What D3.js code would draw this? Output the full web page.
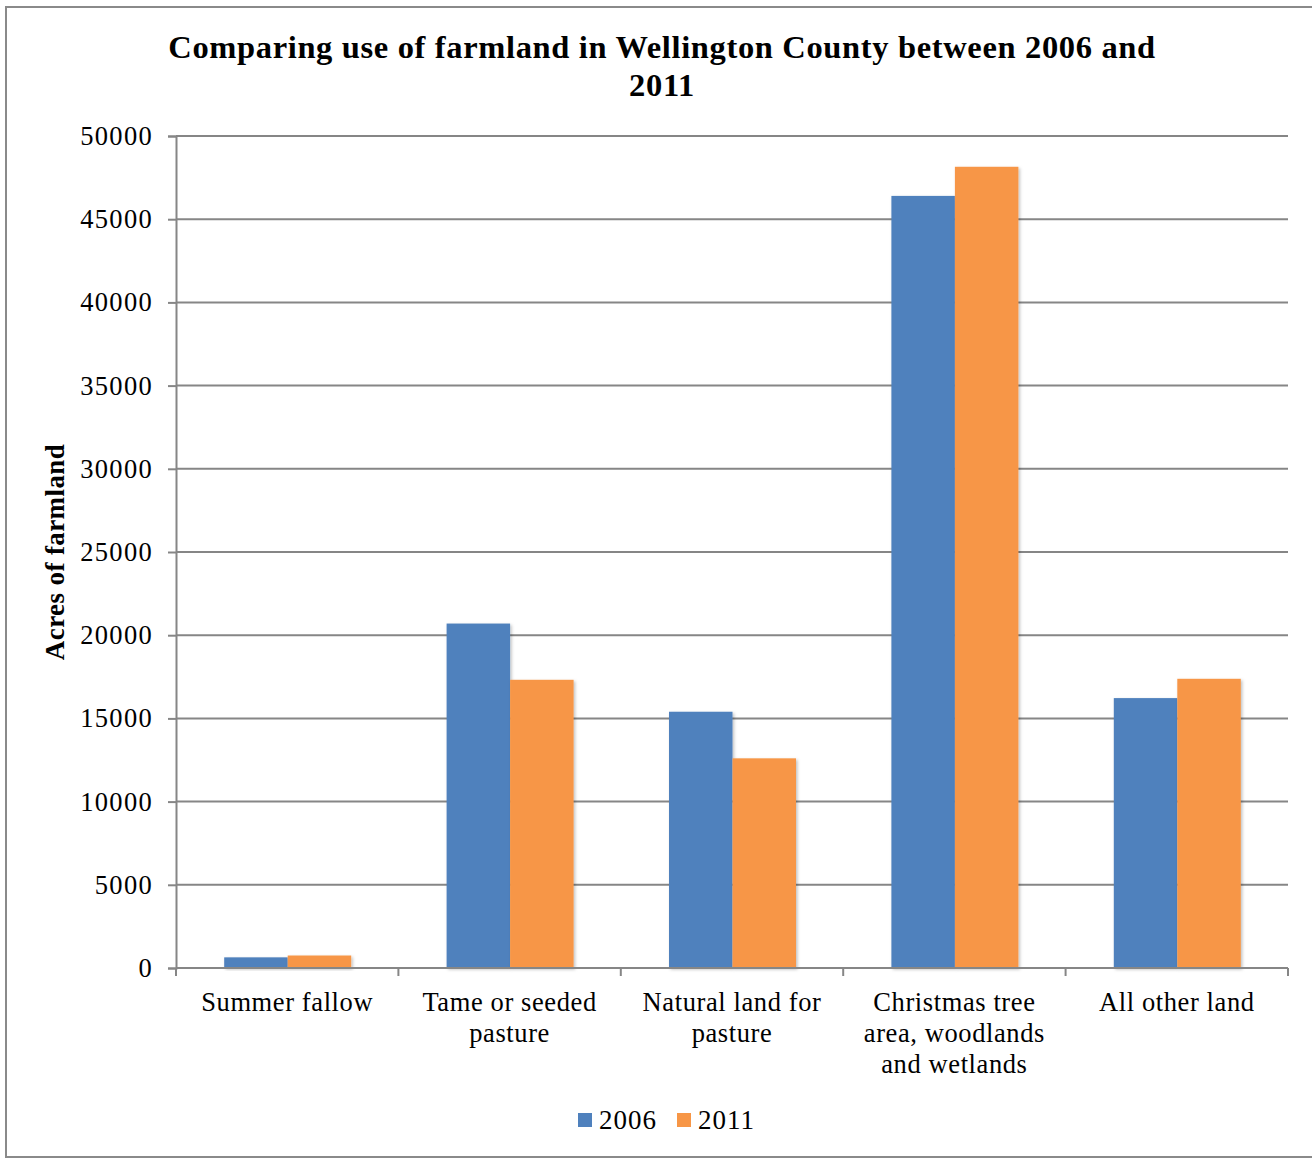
<!DOCTYPE html>
<html>
<head>
<meta charset="utf-8">
<script src="https://cdn.jsdelivr.net/npm/d3@7"></script>
<style>
  html, body { margin: 0; padding: 0; background: #fff; }
  svg { display: block; }
  text { font-family: "Liberation Serif", "DejaVu Serif", serif; fill: #000; }
</style>
</head>
<body>
<script>
// Farmland use in Wellington County, acres
const categories = [
  ["Summer fallow"],
  ["Tame or seeded", "pasture"],
  ["Natural land for", "pasture"],
  ["Christmas tree", "area, woodlands", "and wetlands"],
  ["All other land"]
];
const seriesNames = ["2006", "2011"];
const values2006 = [640, 20700, 15400, 46400, 16220];
const values2011 = [750, 17320, 12600, 48150, 17380];
const yTicks = [0, 5000, 10000, 15000, 20000, 25000, 30000, 35000, 40000, 45000, 50000];
const colors = ["#4F81BD", "#F79646"];

const W = 1312, H = 1159;
const plot = { left: 176, right: 1288, top: 136, bottom: 968 };

const svg = d3.select("body").append("svg").attr("width", W).attr("height", H);

// soft shadow under bars
const defs = svg.append("defs");
const f = defs.append("filter").attr("id", "shadow").attr("x", "-10%").attr("y", "-10%").attr("width", "130%").attr("height", "130%");
f.append("feDropShadow").attr("dx", 1.5).attr("dy", 1.5).attr("stdDeviation", 1.5).attr("flood-color", "#000").attr("flood-opacity", 0.25);

// outer frame
svg.append("rect").attr("x", 6).attr("y", 7).attr("width", W + 10).attr("height", H - 9)
  .attr("fill", "none").attr("stroke", "#8a8a8a").attr("stroke-width", 2);

const x0 = d3.scaleBand().domain(d3.range(categories.length)).range([plot.left, plot.right]).paddingInner(0).paddingOuter(0);
const groupWidth = 127;
const x1 = d3.scaleBand().domain(seriesNames).range([0, groupWidth]);
const y = d3.scaleLinear().domain([0, 50000]).range([plot.bottom, plot.top]);

// horizontal gridlines
svg.append("g").selectAll("line").data(yTicks.filter(d => d > 0)).join("line")
  .attr("x1", plot.left).attr("x2", plot.right)
  .attr("y1", d => y(d)).attr("y2", d => y(d))
  .attr("stroke", "#868686").attr("stroke-width", 2);

// y axis
const yAxis = d3.axisLeft(y).tickValues(yTicks).tickSize(8).tickPadding(15).tickFormat(d3.format("d"));
const gy = svg.append("g").attr("transform", `translate(${plot.left},0)`).call(yAxis);
gy.select(".domain").attr("stroke", "#868686").attr("stroke-width", 2);
gy.selectAll(".tick line").attr("stroke", "#868686").attr("stroke-width", 2);
gy.selectAll(".tick text").attr("font-size", 26.5).attr("letter-spacing", "1.3px")
  .attr("font-family", "Liberation Serif").attr("fill", "#000");

// bars
const series = [values2006, values2011];
const groups = svg.append("g").selectAll("g").data(categories.map((c, i) => i)).join("g")
  .attr("transform", i => `translate(${x0(i) + (x0.bandwidth() - groupWidth) / 2 + 0.5},0)`);
groups.selectAll("rect").data(i => seriesNames.map((s, k) => ({ s, k, v: series[k][i] }))).join("rect")
  .attr("x", d => x1(d.s)).attr("width", x1.bandwidth())
  .attr("y", d => y(d.v)).attr("height", d => y(0) - y(d.v))
  .attr("fill", d => colors[d.k]).attr("filter", "url(#shadow)");

// x axis baseline and ticks
const xb = svg.append("g");
xb.append("line").attr("x1", plot.left).attr("x2", plot.right).attr("y1", plot.bottom).attr("y2", plot.bottom)
  .attr("stroke", "#868686").attr("stroke-width", 2);
xb.selectAll("line.t").data(d3.range(categories.length + 1)).join("line").attr("class", "t")
  .attr("x1", i => plot.left + i * x0.step()).attr("x2", i => plot.left + i * x0.step())
  .attr("y1", plot.bottom).attr("y2", plot.bottom + 8)
  .attr("stroke", "#868686").attr("stroke-width", 2);

// category labels
const catText = svg.append("g").selectAll("text").data(categories).join("text")
  .attr("text-anchor", "middle").attr("font-size", 26.5).attr("letter-spacing", "0.6px")
  .attr("x", (d, i) => x0(i) + x0.bandwidth() / 2).attr("y", 1011);
catText.selectAll("tspan").data(d => d).join("tspan")
  .attr("x", function () { return this.parentNode.getAttribute("x"); })
  .attr("dy", (d, j) => j === 0 ? 0 : 31).text(d => d);

// title
const title = svg.append("text").attr("text-anchor", "middle").attr("font-size", 32.5)
  .attr("font-weight", "bold").attr("letter-spacing", "0.65px");
title.append("tspan").attr("x", 662).attr("y", 58).text("Comparing use of farmland in Wellington County between 2006 and");
title.append("tspan").attr("x", 662).attr("y", 96).text("2011");

// y axis title
svg.append("text").attr("transform", "translate(64,552) rotate(-90)")
  .attr("text-anchor", "middle").attr("font-size", 27).attr("font-weight", "bold")
  .attr("letter-spacing", "0.4px")
  .text("Acres of farmland");

// legend
const legend = svg.append("g");
const legendX = [578, 677];
seriesNames.forEach((s, k) => {
  legend.append("rect").attr("x", legendX[k]).attr("y", 1113).attr("width", 14).attr("height", 14).attr("fill", colors[k]);
  legend.append("text").attr("x", legendX[k] + 21).attr("y", 1129).attr("font-size", 27)
    .attr("letter-spacing", "1px").text(s);
});
</script>
</body>
</html>
